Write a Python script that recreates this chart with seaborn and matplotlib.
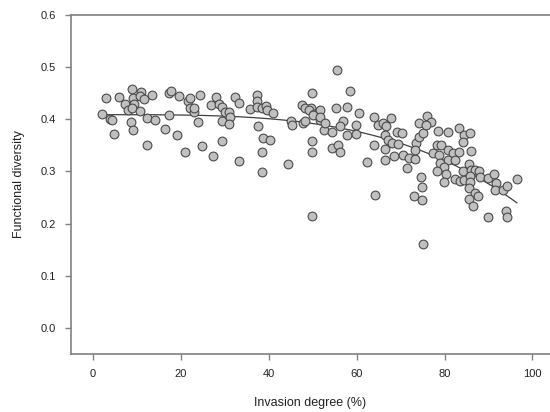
import matplotlib
matplotlib.use("Agg")
import matplotlib.pyplot as plt
import seaborn as sns
import numpy as np
import pandas as pd

invasion = [
    2.1, 3.05, 3.8, 4.4, 4.7, 5.85, 7.4, 8.0, 8.8, 9.2, 9.3, 8.97, 8.7, 9.0, 10.9, 10.6, 11.5, 10.6,
    12.4, 12.3, 13.4, 14.1, 16.5, 17.2, 17.75, 17.3, 19.5, 19.2, 21.0, 21.6, 22.0, 22.1, 22.9, 23.1,
    23.9, 24.3, 24.8, 26.8, 27.3,
    27.9, 28.6, 29.4, 30.0, 30.9, 31.1, 29.4, 30.9, 29.4, 32.3, 33.3, 33.2, 35.7, 37.4, 37.4, 37.4,
    38.5, 39.4, 39.5, 40.9, 37.6, 38.8, 40.3, 38.4, 38.4, 44.4, 45.0, 45.4, 47.6, 48.2, 47.9, 48.3,
    49.8, 49.7, 49.1, 50.2, 51.6, 51.6, 49.8, 49.8, 52.6, 49.9, 50.1, 51.7, 52.8,
    55.5, 58.5, 55.3, 57.7, 56.8, 56.1, 54.3, 57.9, 59.9, 59.9, 60.5, 54.5, 55.8, 56.1, 62.4, 63.9,
    64.9, 66.0, 66.6, 67.9, 66.5, 67.1, 63.9, 66.5, 68.0, 69.4, 69.2, 70.3, 68.4, 66.5, 70.5, 71.9,
    73.2, 71.5, 64.1, 73.1, 74.1, 73.6, 74.1, 73.2, 75.1, 74.7, 74.9, 74.9, 75.0,
    76.0, 77.0, 75.7, 78.5, 80.8, 83.3, 84.4, 85.7, 84.2, 86.1, 78.2, 79.3, 80.8, 81.9, 83.3, 77.4,
    78.8, 80.8, 82.3, 78.9, 79.9, 78.2, 80.4, 79.8, 82.3, 83.5, 84.4, 84.1, 85.6, 86.1, 86.9, 87.9,
    85.7, 85.7, 85.6, 86.9, 87.6, 85.6, 86.5, 88.0, 89.9, 91.2, 91.6, 91.4, 93.2, 94.2, 96.5, 89.9,
    94.1, 94.2,
]
diversity = [
    0.410, 0.441, 0.401, 0.398, 0.372, 0.443, 0.429, 0.418, 0.458, 0.440, 0.430, 0.421, 0.395, 0.379,
    0.452, 0.444, 0.439, 0.416, 0.402, 0.351, 0.446, 0.398, 0.381, 0.451, 0.454, 0.409, 0.444, 0.369,
    0.337, 0.435, 0.440, 0.422, 0.414, 0.422, 0.395, 0.447, 0.349, 0.427, 0.330,
    0.442, 0.429, 0.424, 0.414, 0.414, 0.405, 0.397, 0.391, 0.358, 0.443, 0.432, 0.320, 0.419, 0.446,
    0.435, 0.424, 0.421, 0.426, 0.417, 0.412, 0.388, 0.364, 0.361, 0.338, 0.299, 0.314, 0.397, 0.389,
    0.427, 0.421, 0.392, 0.397, 0.451, 0.422, 0.418, 0.411, 0.418, 0.398, 0.358, 0.338, 0.379, 0.215,
    0.408, 0.405, 0.392,
    0.494, 0.455, 0.421, 0.424, 0.397, 0.387, 0.376, 0.370, 0.390, 0.372, 0.413, 0.345, 0.351, 0.337,
    0.319, 0.405, 0.390, 0.392, 0.388, 0.402, 0.370, 0.360, 0.351, 0.344, 0.354, 0.352, 0.376, 0.374,
    0.330, 0.322, 0.331, 0.325, 0.323, 0.306, 0.255, 0.253, 0.393, 0.354, 0.366, 0.341, 0.373, 0.290,
    0.271, 0.245, 0.160,
    0.407, 0.395, 0.389, 0.378, 0.376, 0.384, 0.370, 0.373, 0.357, 0.340, 0.351, 0.351, 0.342, 0.335,
    0.337, 0.335, 0.331, 0.322, 0.322, 0.316, 0.309, 0.301, 0.295, 0.280, 0.286, 0.282, 0.284, 0.300,
    0.315, 0.303, 0.303, 0.301, 0.291, 0.280, 0.268, 0.259, 0.253, 0.248, 0.234, 0.290, 0.288, 0.296,
    0.278, 0.264, 0.264, 0.272, 0.285, 0.212, 0.225, 0.212,
]
x_ticks = [0, 20, 40, 60, 80, 100]
y_ticks = [0.0, 0.1, 0.2, 0.3, 0.4, 0.5, 0.6]

df = pd.DataFrame({"Invasion degree (%)": invasion, "Functional diversity": diversity})

# Power-law trend y = a + b * (x/100)^3.5 fitted by least squares on the data
xs = np.asarray(invasion) / 100.0
A = np.column_stack([np.ones_like(xs), xs ** 3.5])
coef, *_ = np.linalg.lstsq(A, np.asarray(diversity), rcond=None)
grid = np.linspace(min(invasion), max(invasion), 200)
fit_df = pd.DataFrame({"x": grid, "y": coef[0] + coef[1] * (grid / 100.0) ** 3.5})

sns.set_style("white")
plt.rcParams["font.family"] = ["Liberation Sans", "DejaVu Sans"]

fig = plt.figure(figsize=(5.5, 4.12), dpi=100)
ax = fig.add_axes([71 / 550, 1 - 354 / 412, 1 - 71 / 550, (354 - 15) / 412])

sns.scatterplot(data=df, x="Invasion degree (%)", y="Functional diversity", ax=ax,
                s=40, color="#c0c0c0", edgecolor="#4a4a4a", linewidth=0.8, zorder=3)
sns.lineplot(data=fit_df, x="x", y="y", ax=ax, color="#404040", linewidth=0.9, zorder=2)

ax.set_xlim(-5, 104)
ax.set_ylim(-0.05, 0.6)
ax.set_xticks(x_ticks)
ax.set_yticks(y_ticks)
ax.set_yticklabels([f"{v:.1f}" for v in y_ticks])
ax.set_xlabel("Invasion degree (%)", fontsize=9, color="#222222", labelpad=13)
ax.set_ylabel("Functional diversity", fontsize=9, color="#222222", labelpad=11)

for side in ["left", "bottom", "top"]:
    ax.spines[side].set_visible(True)
    ax.spines[side].set_color("#808080")
    ax.spines[side].set_linewidth(1.2)
ax.spines["right"].set_visible(False)

ax.tick_params(axis="both", which="major", direction="out", length=4, width=1,
               color="#808080", labelsize=8, labelcolor="#222222", pad=7,
               bottom=True, left=True)

fig.savefig("out.png", dpi=100)
